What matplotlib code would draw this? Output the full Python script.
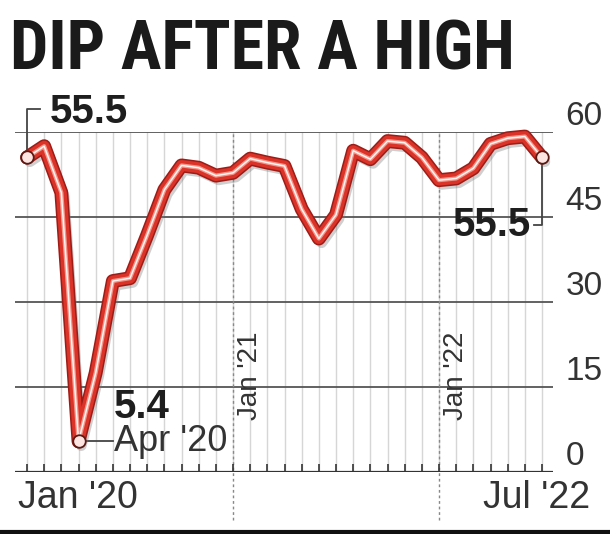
import matplotlib
matplotlib.use('Agg')
import matplotlib.pyplot as plt
import matplotlib.patheffects as pe
from matplotlib.lines import Line2D
from matplotlib import font_manager as fm
import numpy as np

# monthly index, Jan 2020 .. Jul 2022
months = np.arange(31)
pmi = [55.5, 57.5, 49.3, 5.4, 17.5, 33.7, 34.2, 41.8, 49.8, 54.1, 53.7, 52.3,
       52.8, 55.3, 54.6, 54.0, 46.4, 41.2, 45.4, 56.7, 55.2, 58.4, 58.1, 55.5,
       51.5, 51.8, 53.6, 57.9, 58.9, 59.2, 55.5]
y_ticks = [0, 15, 30, 45, 60]
year_marks = [(12, "Jan '21"), (24, "Jan '22")]
first_label = "Jan '20"
last_label = "Jul '22"
low_idx = 3
low_label = "Apr '20"
headline = "DIP AFTER A HIGH"

installed = {f.name for f in fm.fontManager.ttflist}
cond_font = next((n for n in ['Roboto Condensed', 'Fira Sans Condensed',
                              'Barlow Condensed', 'Archivo Narrow',
                              'Liberation Sans Narrow', 'Roboto']
                  if n in installed), 'DejaVu Sans')
num_font = 'Liberation Sans'

W, H = 610, 534
fig = plt.figure(figsize=(W / 100, H / 100), dpi=100)
ax = fig.add_axes([15 / W, (H - 472) / H, 538 / W, 340 / H])
ax.set_xlim(-0.70, 30.64)
ax.set_ylim(0, 60)
for s in ax.spines.values():
    s.set_visible(False)

# light monthly grid
for m in months:
    ax.plot([m, m], [0, 60], color='#d6d6d6', lw=1, zorder=0)
# horizontal grid
for v in y_ticks[1:]:
    ax.axhline(v, color='#555555', lw=1.3, zorder=1)
ax.axhline(0, color='#333333', lw=1.6, zorder=1)

# monthly ticks
ax.set_xticks(months)
ax.set_xticklabels([])
ax.tick_params(axis='x', direction='in', length=6, width=1.2, color='#333333')
ax.set_yticks([])

# dotted year separators
for m, lab in year_marks:
    ax.plot([m, m], [-8.5, 60], color='#888888', lw=1, ls=(0, (2, 2)),
            clip_on=False, zorder=1)
    ax.text(m + 0.25, 17, lab, rotation=90, ha='left', va='center',
            fontsize=20, color='#333333', family=num_font)

# y labels on the right, sitting above their gridlines
for v in y_ticks:
    ax.annotate(str(v), xy=(1, v), xycoords=('axes fraction', 'data'),
                xytext=(9, 11), textcoords='offset points', ha='left',
                va='center', fontsize=24, color='#333333', family=num_font)

# x end labels
ax.annotate(first_label, xy=(-0.52, 0), xycoords='data', xytext=(0, -19),
            textcoords='offset points', ha='left', va='center', fontsize=27,
            color='#333333', family=num_font)
ax.annotate(last_label, xy=(32.8, 0), xycoords='data', xytext=(0, -19),
            textcoords='offset points', ha='right', va='center', fontsize=27,
            color='#333333', family=num_font, annotation_clip=False)

# the PMI line: shadow, dark edge, red body, light core
ax.plot(months, pmi, color='#dc3328', lw=7.8, solid_joinstyle='round',
        solid_capstyle='round', clip_on=False, zorder=3,
        path_effects=[pe.SimpleLineShadow(offset=(2, -3), shadow_color='#777777',
                                          alpha=0.35),
                      pe.Stroke(linewidth=10, foreground='#9c1d18'),
                      pe.Normal()])
ax.plot(months, pmi, color='#f2958a', lw=3, solid_joinstyle='round',
        clip_on=False, zorder=4)
ax.plot(months, pmi, color='#fff3f0', lw=1.1, solid_joinstyle='round',
        clip_on=False, zorder=5)

# highlighted points
for i in [0, low_idx, 30]:
    ax.plot(months[i], pmi[i], 'o', ms=9, mfc='#fde4e0', mec='#5a1a14',
            mew=1.3, clip_on=False, zorder=6)

lc = '#444444'
# start value bracket
ax.plot([0, 0, 0.75], [pmi[0] + 1.0, 64.0, 64.0], color=lc, lw=1.3,
        clip_on=False, zorder=2)
ax.text(1.35, 63.5, f"{pmi[0]}", ha='left', va='center', fontsize=29,
        fontweight='bold', color='#1e1e1e', family=num_font)

# end value bracket
ax.plot([30, 30, 29.55], [pmi[30] - 1.0, 43.6, 43.6], color=lc, lw=1.3,
        clip_on=False, zorder=2)
ax.text(29.35, 43.6, f"{pmi[30]}", ha='right', va='center', fontsize=29,
        fontweight='bold', color='#1e1e1e', family=num_font, zorder=7)

# low point label
ax.plot([months[low_idx] + 0.35, months[low_idx] + 2.0],
        [pmi[low_idx], pmi[low_idx]], color=lc, lw=1.3, zorder=2)
ax.text(months[low_idx] + 2.05, 11.5, f"{pmi[low_idx]}", ha='left',
        va='center', fontsize=29, fontweight='bold', color='#1e1e1e',
        family=num_font)
ax.text(months[low_idx] + 2.05, 5.3, low_label, ha='left', va='center',
        fontsize=26, color='#333333', family=num_font)

# headline, sized to span the chart width
title = fig.text(10 / W, (H - 69) / H, headline, ha='left', va='baseline',
                 fontsize=49, fontweight='bold', color='#1a1a1a',
                 family=cond_font)
r = fig.canvas.get_renderer()
tw = title.get_window_extent(r).width
title.set_fontsize(49 * 505 / tw)

# rule along the bottom
fig.add_artist(Line2D([0, 1], [2 / H, 2 / H], color='#111111', lw=3))

fig.savefig('out.png', dpi=100, facecolor='white')
